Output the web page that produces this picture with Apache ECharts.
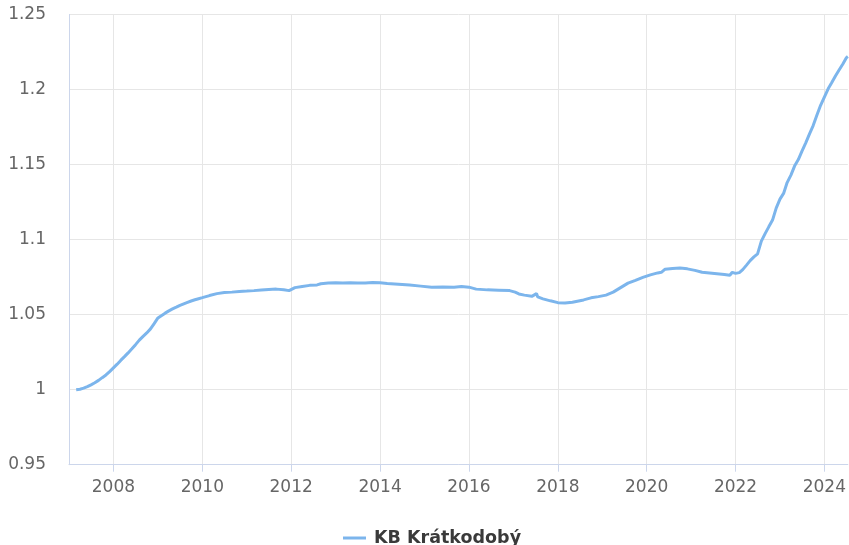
<!DOCTYPE html>
<html>
<head>
<meta charset="utf-8">
<title>KB Krátkodobý</title>
<script src="https://cdn.jsdelivr.net/npm/echarts@6/dist/echarts.min.js"></script>
<style>
  html, body { margin: 0; padding: 0; background: #ffffff; }
  #chart { width: 849px; height: 545px; }
</style>
</head>
<body>
<div id="chart"></div>
<script>
// Unit value of the fund over time
const seriesName = 'KB Krátkodobý';

const dates = [
  '2007-03-01','2007-04-01','2007-05-01','2007-06-01','2007-07-01','2007-08-01','2007-09-01','2007-10-01','2007-11-01','2007-12-01',
  '2008-01-01','2008-02-01','2008-03-01','2008-04-01','2008-05-01','2008-06-01','2008-07-01','2008-08-01','2008-09-01','2008-10-01','2008-11-01','2008-12-01',
  '2009-01-01','2009-02-01','2009-03-01','2009-04-01','2009-05-01','2009-06-01','2009-07-01','2009-08-01','2009-09-01','2009-10-01','2009-11-01','2009-12-01',
  '2010-01-01','2010-03-01','2010-05-01','2010-07-01','2010-09-01','2010-11-01',
  '2011-01-01','2011-03-01','2011-05-01','2011-07-01','2011-09-01','2011-11-01','2011-12-15',
  '2012-02-01','2012-04-01','2012-06-01','2012-08-01','2012-09-01','2012-11-01',
  '2013-01-01','2013-03-01','2013-05-01','2013-07-01','2013-09-01','2013-11-01',
  '2014-01-01','2014-03-01','2014-06-01','2014-09-01','2014-12-01',
  '2015-03-01','2015-06-01','2015-09-01','2015-11-01',
  '2016-01-01','2016-03-01','2016-06-01','2016-09-01','2016-12-01',
  '2017-01-15','2017-02-15','2017-03-01','2017-04-01','2017-06-01','2017-07-10','2017-07-20','2017-09-01','2017-11-01',
  '2018-01-01','2018-03-01','2018-05-01','2018-08-01','2018-10-01','2018-12-01',
  '2019-02-01','2019-04-01','2019-06-01','2019-08-01','2019-10-01','2019-12-01',
  '2020-02-01','2020-04-01','2020-05-01','2020-06-01','2020-08-01','2020-10-01','2020-12-01',
  '2021-02-01','2021-04-01','2021-06-01','2021-08-01','2021-10-01','2021-11-15','2021-12-05',
  '2022-01-01','2022-02-01','2022-03-01','2022-04-01','2022-05-01','2022-06-01','2022-07-01','2022-08-01','2022-09-01','2022-10-01','2022-11-01','2022-12-01',
  '2023-01-01','2023-02-01','2023-03-01','2023-04-01','2023-05-01','2023-06-01','2023-07-01','2023-08-01','2023-09-01','2023-10-01','2023-11-01','2023-12-01',
  '2024-01-01','2024-02-01','2024-03-01','2024-04-01','2024-05-01','2024-06-01','2024-07-01','2024-07-12'
];

const values = [
  1.0000,1.0003,1.0010,1.0020,1.0032,1.0046,1.0062,1.0080,1.0098,1.0120,
  1.0145,1.0170,1.0195,1.0220,1.0245,1.0272,1.0300,1.0330,1.0355,1.0378,1.0405,1.0440,
  1.0478,1.0495,1.0510,1.0525,1.0538,1.0550,1.0562,1.0572,1.0582,1.0591,1.0599,1.0606,
  1.0613,1.0627,1.0640,1.0647,1.0650,1.0654,
  1.0657,1.0660,1.0664,1.0668,1.0670,1.0666,1.0660,
  1.0680,1.0688,1.0695,1.0698,1.0706,1.0710,
  1.0713,1.0710,1.0712,1.0711,1.0710,1.0714,
  1.0712,1.0708,1.0703,1.0697,1.0690,
  1.0683,1.0684,1.0683,1.0688,
  1.0683,1.0670,1.0665,1.0663,1.0660,
  1.0650,1.0638,1.0642,1.0630,1.0622,1.0640,1.0618,1.0605,1.0592,
  1.0580,1.0577,1.0582,1.0598,1.0612,1.0620,
  1.0630,1.0650,1.0680,1.0710,1.0728,1.0748,
  1.0765,1.0778,1.0782,1.0803,1.0808,1.0810,1.0805,
  1.0795,1.0782,1.0778,1.0773,1.0768,1.0762,1.0782,
  1.0775,1.0780,1.0800,1.0830,1.0860,1.0885,1.0905,1.0990,1.1040,1.1085,1.1130,1.1210,
  1.1270,1.1310,1.1380,1.1430,1.1490,1.1533,1.1590,1.1645,1.1705,1.1760,1.1830,1.1895,
  1.1950,1.2005,1.2045,1.2090,1.2130,1.2170,1.2213,1.2220
];

const yearTicks = [2008, 2010, 2012, 2014, 2016, 2018, 2020, 2022, 2024];
const xStart = '2007-01-01';
const xEnd = '2024-07-12';

const toTime = s => Date.parse(s + 'T00:00:00Z');
const tickTimes = yearTicks.map(y => Date.UTC(y, 0, 1));
const points = dates.map((d, i) => [toTime(d), values[i]]);

const chart = echarts.init(document.getElementById('chart'), null, { renderer: 'canvas' });

chart.setOption({
  animation: false,
  textStyle: { fontFamily: 'DejaVu Sans' },
  grid: { left: 69, right: 0, top: 14.5, bottom: 80.3 },
  legend: {
    left: 343,
    top: 529,
    padding: 0,
    icon: 'rect',
    itemWidth: 23,
    itemHeight: 3,
    selectedMode: false,
    textStyle: {
      fontFamily: 'DejaVu Sans',
      fontSize: 17.5,
      fontWeight: 'bold',
      color: '#3a3a3a',
      padding: [0, 0, 0, 3]
    },
    data: [seriesName]
  },
  xAxis: {
    type: 'value',
    min: toTime(xStart),
    max: toTime(xEnd),
    axisLine: { show: true, lineStyle: { color: '#ccd6eb', width: 1 } },
    axisTick: { show: true, length: 7, lineStyle: { color: '#ccd6eb' }, customValues: tickTimes },
    axisLabel: {
      customValues: tickTimes,
      margin: 14,
      color: '#666666',
      fontSize: 17,
      fontFamily: 'DejaVu Sans',
      formatter: v => String(new Date(v).getUTCFullYear())
    },
    splitLine: { show: true, lineStyle: { color: '#e6e6e6', width: 1 } }
  },
  yAxis: {
    type: 'value',
    min: 0.95,
    max: 1.25,
    interval: 0.05,
    axisLine: { show: true, lineStyle: { color: '#ccd6eb', width: 1 } },
    axisTick: { show: false },
    axisLabel: {
      margin: 23,
      color: '#666666',
      fontSize: 17,
      fontFamily: 'DejaVu Sans',
      padding: [3, 0, 0, 0]
    },
    splitLine: { show: true, lineStyle: { color: '#e6e6e6', width: 1 } }
  },
  series: [{
    name: seriesName,
    type: 'line',
    data: points,
    showSymbol: false,
    symbol: 'none',
    color: '#7cb5ec',
    lineStyle: { color: '#7cb5ec', width: 3 },
    emphasis: { disabled: true }
  }]
});
</script>
</body>
</html>
